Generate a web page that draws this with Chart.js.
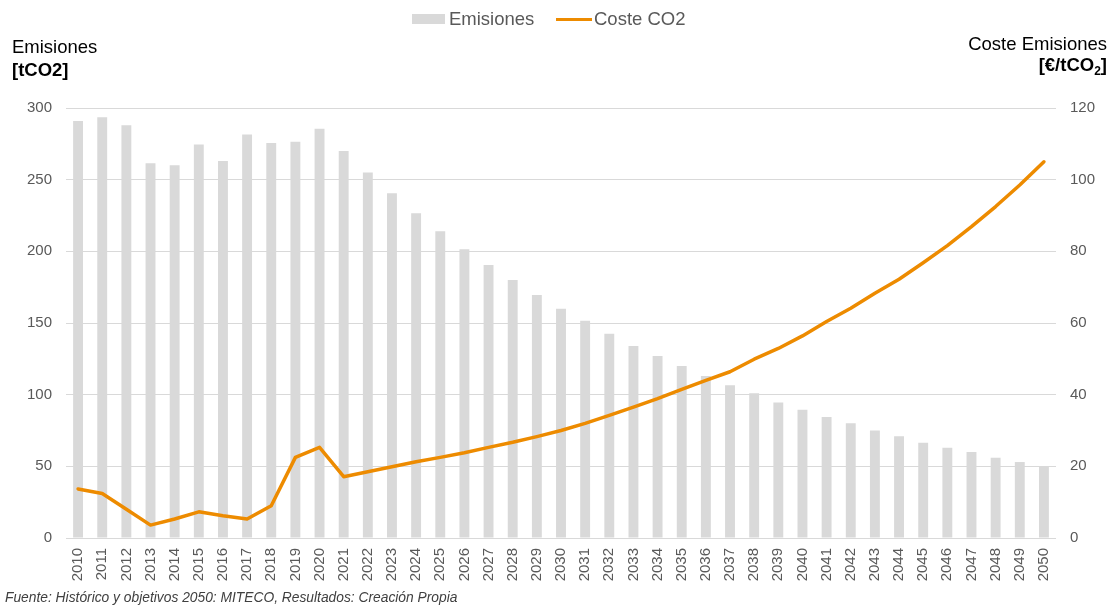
<!DOCTYPE html>
<html lang="es">
<head>
<meta charset="utf-8">
<title>Emisiones y coste CO2</title>
<script src="https://cdn.jsdelivr.net/npm/chart.js@4.4.1/dist/chart.umd.min.js"></script>
<style>
  html, body { margin: 0; padding: 0; background: #ffffff; }
  #wrap { position: relative; width: 1114px; height: 606px; font-family: "Liberation Sans", Arial, sans-serif; }
  #c { position: absolute; left: 0; top: 0; }
  .txt { position: absolute; white-space: nowrap; line-height: 1; }
  .legend-text { font-size: 18.5px; color: #595959; top: 10px; }
  .axis-title { font-size: 18.5px; color: #000000; }
  .axis-unit { font-size: 18.5px; font-weight: bold; color: #000000; }
  #footer { left: 5px; top: 591px; font-size: 13.8px; font-style: italic; color: #404040; }
</style>
</head>
<body>
<div id="wrap">
  <canvas id="c" width="1114" height="606"></canvas>

  <!-- legend -->
  <div class="txt" style="left:412px; top:14px; width:33px; height:10px; background:#d9d9d9;"></div>
  <div class="txt legend-text" style="left:449px;">Emisiones</div>
  <div class="txt" style="left:556px; top:17.5px; width:36px; height:3px; background:#ed8b00;"></div>
  <div class="txt legend-text" style="left:594px;">Coste CO2</div>

  <!-- axis titles -->
  <div class="txt axis-title" style="left:12px; top:38px;">Emisiones</div>
  <div class="txt axis-unit" style="left:12px; top:61px;">[tCO2]</div>
  <div class="txt axis-title" style="right:7px; top:35px;">Coste Emisiones</div>
  <div class="txt axis-unit" style="right:7px; top:56px;">[€/tCO<sub style="font-size:12px; vertical-align:-4px;">2</sub>]</div>

  <div id="footer" class="txt">Fuente: Histórico y objetivos 2050: MITECO, Resultados: Creación Propia</div>
</div>

<script>
// Years on the category axis
const years = [
  "2010", "2011", "2012", "2013", "2014", "2015", "2016", "2017", "2018", "2019",
  "2020", "2021", "2022", "2023", "2024", "2025", "2026", "2027", "2028", "2029",
  "2030", "2031", "2032", "2033", "2034", "2035", "2036", "2037", "2038", "2039",
  "2040", "2041", "2042", "2043", "2044", "2045", "2046", "2047", "2048", "2049",
  "2050"
];

// Annual emissions [tCO2]
const emisiones = [
  291, 293.5, 288, 261.5, 260, 274.5, 263, 281.5, 275.5, 276.5,
  285.5, 270, 255, 240.5, 226.5, 214, 201.5, 190.5, 180, 169.5,
  160, 151.5, 142.5, 134, 127, 120, 113, 106.5, 101, 94.5,
  89.5, 84.5, 80, 75, 71, 66.5, 63, 60, 56, 53,
  50
];

// Cost of emissions [€/tCO2]
const costeCO2 = [
  13.7, 12.4, 8.0, 3.6, 5.3, 7.3, 6.2, 5.3, 9.0, 22.5,
  25.3, 17.1, 18.5, 19.9, 21.3, 22.5, 23.8, 25.3, 26.7, 28.3,
  30.0, 32.0, 34.2, 36.5, 38.9, 41.5, 44.0, 46.4, 49.9, 52.9,
  56.4, 60.4, 64.1, 68.3, 72.2, 76.8, 81.6, 86.9, 92.5, 98.5,
  105.0
];

// Axis ranges
const emisionesTicks = { min: 0, max: 300, step: 50 };
const costeTicks = { min: 0, max: 120, step: 20 };

const tickColor = "#595959";
const gridColor = "#d9d9d9";
const baseFont = "'Liberation Sans', Arial, sans-serif";

new Chart(document.getElementById("c"), {
  data: {
    labels: years,
    datasets: [
      {
        type: "line",
        label: "Coste CO2",
        data: costeCO2,
        yAxisID: "yCoste",
        borderColor: "#ed8b00",
        backgroundColor: "#ed8b00",
        borderWidth: 3.5,
        borderJoinStyle: "round",
        borderCapStyle: "round",
        pointRadius: 0,
        tension: 0,
        order: 0
      },
      {
        type: "bar",
        label: "Emisiones",
        data: emisiones,
        yAxisID: "yEmis",
        backgroundColor: "#d9d9d9",
        borderWidth: 0,
        categoryPercentage: 1,
        barPercentage: 0.41,
        order: 1
      }
    ]
  },
  options: {
    responsive: false,
    animation: false,
    layout: { padding: { top: 108, left: 0, right: 0, bottom: 0 } },
    plugins: {
      legend: { display: false },
      tooltip: { enabled: false },
      title: { display: false }
    },
    scales: {
      x: {
        offset: true,
        grid: { display: false, drawTicks: false },
        border: { display: false },
        ticks: {
          autoSkip: false,
          minRotation: 90,
          maxRotation: 90,
          padding: 10,
          color: tickColor,
          font: { family: baseFont, size: 15 }
        },
        afterFit(scale) { scale.height = 68; }
      },
      yEmis: {
        position: "left",
        min: emisionesTicks.min,
        max: emisionesTicks.max,
        grid: { color: gridColor, lineWidth: 1, drawTicks: false },
        border: { display: false },
        ticks: {
          stepSize: emisionesTicks.step,
          padding: 14,
          color: tickColor,
          font: { family: baseFont, size: 15 }
        },
        afterFit(scale) { scale.width = 66; }
      },
      yCoste: {
        position: "right",
        min: costeTicks.min,
        max: costeTicks.max,
        grid: { display: false, drawTicks: false },
        border: { display: false },
        ticks: {
          stepSize: costeTicks.step,
          padding: 14,
          color: tickColor,
          font: { family: baseFont, size: 15 }
        },
        afterFit(scale) { scale.width = 58; }
      }
    }
  }
});
</script>
</body>
</html>
